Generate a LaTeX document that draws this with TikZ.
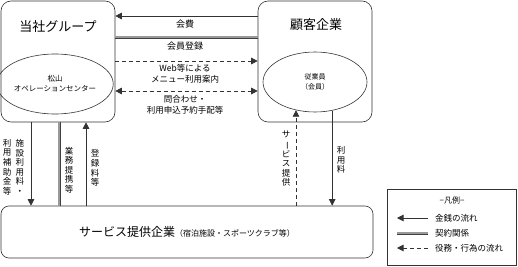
\documentclass[tikz,border=0pt]{standalone}
\usepackage{fontspec}
\setmainfont{Noto Sans CJK JP}
\usetikzlibrary{arrows.meta,shapes.geometric,calc,positioning}

\begin{document}
\begin{tikzpicture}[
  x=1pt, y=-1pt,
  >={Triangle[length=6.5pt,width=6.5pt]},
  box/.style={draw=black!80, line width=0.6pt, rounded corners=10pt, inner sep=0pt},
  oval/.style={ellipse, draw=black!80, line width=0.6pt, inner sep=0pt, minimum width=104pt, minimum height=60pt, align=center},
  money/.style={draw=black!80, line width=0.6pt},
  act/.style={money, dash pattern=on 4pt off 3pt},
  pact/.style={draw=black!75, line width=0.5pt, double=black!40, double distance=2pt},
  lbl/.style={font={\fontsize{8.5}{11}\selectfont\lineskiplimit=-20pt}, align=center, inner sep=0pt},
  tate/.style={font={\fontsize{8.5}{9.6}\selectfont\lineskiplimit=-20pt}, align=center, inner sep=0pt}
]
\useasboundingbox (0,0) rectangle (518,267);

% the three parties
\node[box, minimum width=114pt, minimum height=121pt] (grp) at (58,61.5) {};
\node[font=\fontsize{13}{15}\selectfont] (grpname) at (58,27) {当社グループ};
\node[oval, font={\fontsize{7.5}{10}\selectfont\lineskiplimit=-20pt}] (ops) at (55,84) {松山\\オペレーションセンター};

\node[box, minimum width=114pt, minimum height=121pt] (cust) at (315,61.5) {};
\node[font=\fontsize{13}{15}\selectfont] (custname) at (316,25) {顧客企業};
\node[oval, font={\fontsize{7}{10}\selectfont\lineskiplimit=-20pt}] (emp) at (315,82) {従業員\\（会員）};

\node[box, rounded corners=8pt, minimum width=372pt, minimum height=52pt] (prov) at (187,232)
  {\fontsize{12}{14}\selectfont サービス提供企業\fontsize{8}{10}\selectfont（宿泊施設・スポーツクラブ等）};

% between the groups and the clients
\draw[money, ->] (cust.west |- 0,16) -- (grp.east |- 0,16);
\node[lbl, font=\fontsize{9}{11}\selectfont] (fee) at (185,24) {会費};
\draw[pact] (grp.east |- 0,37.5) -- (cust.west |- 0,37.5);
\node[lbl, font=\fontsize{9}{11}\selectfont] (reg) at (185,46) {会員登録};
\draw[act, ->] (grp.east |- 0,61) -- (cust.west |- 0,61);
\node[lbl] (menu) at (185,73.5) {Web等による\\メニュー利用案内};
\draw[act, <->] (grp.east |- 0,91) -- (cust.west |- 0,91);
\node[lbl, font={\fontsize{8.5}{10.5}\selectfont\lineskiplimit=-20pt}] (ask) at (185,105) {問合わせ・\\利用申込予約手配等};

% between the groups and the providers
\draw[money, ->] (grp.south -| 31,0) -- (prov.north -| 31,0);
\node[tate] (subsidy1) at (20,167) {施\\設\\利\\用\\料\\・};
\node[tate] (subsidy2) at (7,167) {利\\用\\補\\助\\金\\等};
\draw[pact] (grp.south -| 59,0) -- (prov.north -| 59,0);
\node[tate] (tieup) at (69,170) {業\\務\\提\\携\\等};
\draw[money, ->] (prov.north -| 86,0) -- (grp.south -| 86,0);
\node[tate] (regfee) at (95,168) {登\\録\\料\\等};

% between the providers and the members
\draw[act, ->] (prov.north -| emp.-124) -- (emp.-124);
\node[tate] (service) at (286,159) {サ\\\rotatebox[origin=c]{-90}{ー}\\ビ\\ス\\提\\供};
\draw[money, ->] (emp.-59) -- (emp.-59 |- prov.north);
\node[tate] (usefee) at (341,160) {利\\用\\料};

% legend
\node[draw=black!80, line width=0.6pt, minimum width=129pt, minimum height=76pt] (legend) at (451.5,227) {};
\node[font=\fontsize{8}{10}\selectfont] (legtitle) at (452,200) {−凡例−};
\coordinate (m1) at (397,218); \coordinate (m2) at (428,218);
\coordinate (c1) at (397,233); \coordinate (c2) at (428,233);
\coordinate (a1) at (397,248); \coordinate (a2) at (428,248);
\draw[money, ->] (m2) -- (m1);
\draw[pact] (c1) -- (c2);
\draw[act, ->] (a2) -- (a1);
\node[lbl, anchor=west] (legmoney) at (435,218) {金銭の流れ};
\node[lbl, anchor=west] (legpact) at (435,233) {契約関係};
\node[lbl, anchor=west] (legact) at (435,248) {役務・行為の流れ};
\end{tikzpicture}
\end{document}
